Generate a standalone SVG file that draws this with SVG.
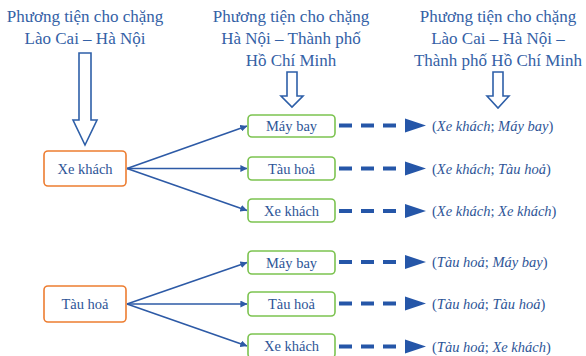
<svg xmlns="http://www.w3.org/2000/svg" width="586" height="356" viewBox="0 0 586 356" font-family="'Liberation Serif', 'Times New Roman', serif">
<style>
text{font-family:'Liberation Serif','Times New Roman',serif;fill:#2e5597}
.title{font-size:17px;text-anchor:middle;fill:#3461a6}
.lbl{font-size:14.5px;text-anchor:middle;dominant-baseline:central}
.res{font-size:14.5px;dominant-baseline:central}
.res .i{font-style:italic}
.orange{fill:#fff;stroke:#ed7d31;stroke-width:1.6}
.green{fill:#fff;stroke:#7cc350;stroke-width:1.6}
.hollow{fill:#fff;stroke:#2e5fa8;stroke-width:1.6;stroke-linejoin:miter}
.link{stroke:#2d5aa6;stroke-width:1.6;fill:none}
.dash{stroke:#2556a8;stroke-width:4;stroke-dasharray:13 9;fill:none}
.dhead{fill:#2556a8}
</style>
<defs>
<marker id="ah" viewBox="0 0 10 10" refX="9.5" refY="5" markerWidth="7" markerHeight="7" markerUnits="userSpaceOnUse" orient="auto">
<path d="M0,0 L10,5 L0,10 Z" fill="#2d5aa6"/>
</marker>
</defs>
<g id="titles">
<text class="title" x="85" y="22">Phương tiện cho chặng</text>
<text class="title" x="85" y="44">Lào Cai – Hà Nội</text>
<text class="title" x="291" y="22">Phương tiện cho chặng</text>
<text class="title" x="291" y="44">Hà Nội – Thành phố</text>
<text class="title" x="291" y="66">Hồ Chí Minh</text>
<text class="title" x="498" y="22">Phương tiện cho chặng</text>
<text class="title" x="498" y="44">Lào Cai – Hà Nội –</text>
<text class="title" x="498" y="66">Thành phố Hồ Chí Minh</text>
</g>
<g id="hollow-arrows">
<path class="hollow" d="M79,53 H91 V120 H97 L85,145 L73,120 H79 Z"/>
<path class="hollow" d="M287,72 H297 V96 H303 L292,107 L281,96 H287 Z"/>
<path class="hollow" d="M493,72 H503 V96 H509 L498,108 L487,96 H493 Z"/>
</g>
<g id="connectors">
<line class="link" x1="127" y1="168.5" x2="247" y2="126" marker-end="url(#ah)"/>
<line class="link" x1="127" y1="168.5" x2="247" y2="168.5" marker-end="url(#ah)"/>
<line class="link" x1="127" y1="168.5" x2="247" y2="210.5" marker-end="url(#ah)"/>
<line class="link" x1="127" y1="304" x2="247" y2="262.5" marker-end="url(#ah)"/>
<line class="link" x1="127" y1="304" x2="247" y2="304" marker-end="url(#ah)"/>
<line class="link" x1="127" y1="304" x2="247" y2="346" marker-end="url(#ah)"/>
<g id="dashed">
<line class="dash" x1="339" y1="125.5" x2="408" y2="125.5"/>
<path class="dhead" d="M405,118.5 L426,125.5 L405,132.5 Z"/>
<line class="dash" x1="339" y1="168.5" x2="408" y2="168.5"/>
<path class="dhead" d="M405,161.5 L426,168.5 L405,175.5 Z"/>
<line class="dash" x1="339" y1="211" x2="408" y2="211"/>
<path class="dhead" d="M405,204 L426,211 L405,218 Z"/>
<line class="dash" x1="339" y1="262" x2="408" y2="262"/>
<path class="dhead" d="M405,255 L426,262 L405,269 Z"/>
<line class="dash" x1="339" y1="303.5" x2="408" y2="303.5"/>
<path class="dhead" d="M405,296.5 L426,303.5 L405,310.5 Z"/>
<line class="dash" x1="339" y1="346.5" x2="408" y2="346.5"/>
<path class="dhead" d="M405,339.5 L426,346.5 L405,353.5 Z"/>
</g>
</g>
<g id="n-xekhach-1"><rect class="orange" x="44" y="151" width="82" height="35" rx="4"/><text class="lbl" x="85" y="168.5">Xe khách</text></g>
<g id="n-tauhoa-1"><rect class="orange" x="44" y="286" width="82" height="36" rx="4"/><text class="lbl" x="85" y="304">Tàu hoả</text></g>
<g id="g-maybay-a"><rect class="green" x="248" y="115" width="87" height="22" rx="4"/><text class="lbl" x="291.5" y="126">Máy bay</text></g>
<g id="g-tauhoa-a"><rect class="green" x="248" y="157" width="87" height="23" rx="4"/><text class="lbl" x="291.5" y="168.5">Tàu hoả</text></g>
<g id="g-xekhach-a"><rect class="green" x="248" y="199" width="87" height="23" rx="4"/><text class="lbl" x="291.5" y="210.5">Xe khách</text></g>
<g id="g-maybay-b"><rect class="green" x="248" y="251" width="87" height="23" rx="4"/><text class="lbl" x="291.5" y="262.5">Máy bay</text></g>
<g id="g-tauhoa-b"><rect class="green" x="248" y="292" width="87" height="24" rx="4"/><text class="lbl" x="291.5" y="304">Tàu hoả</text></g>
<g id="g-xekhach-b"><rect class="green" x="248" y="334" width="87" height="24" rx="4"/><text class="lbl" x="291.5" y="346">Xe khách</text></g>
<g id="results">
<text class="res" x="432" y="125.5">(<tspan class="i">Xe khách</tspan>; <tspan class="i">Máy bay</tspan>)</text>
<text class="res" x="432" y="168.5">(<tspan class="i">Xe khách</tspan>; <tspan class="i">Tàu hoả</tspan>)</text>
<text class="res" x="432" y="211">(<tspan class="i">Xe khách</tspan>; <tspan class="i">Xe khách</tspan>)</text>
<text class="res" x="432" y="262">(<tspan class="i">Tàu hoả</tspan>; <tspan class="i">Máy bay</tspan>)</text>
<text class="res" x="432" y="303.5">(<tspan class="i">Tàu hoả</tspan>; <tspan class="i">Tàu hoả</tspan>)</text>
<text class="res" x="432" y="346.5">(<tspan class="i">Tàu hoả</tspan>; <tspan class="i">Xe khách</tspan>)</text>
</g>
</svg>
